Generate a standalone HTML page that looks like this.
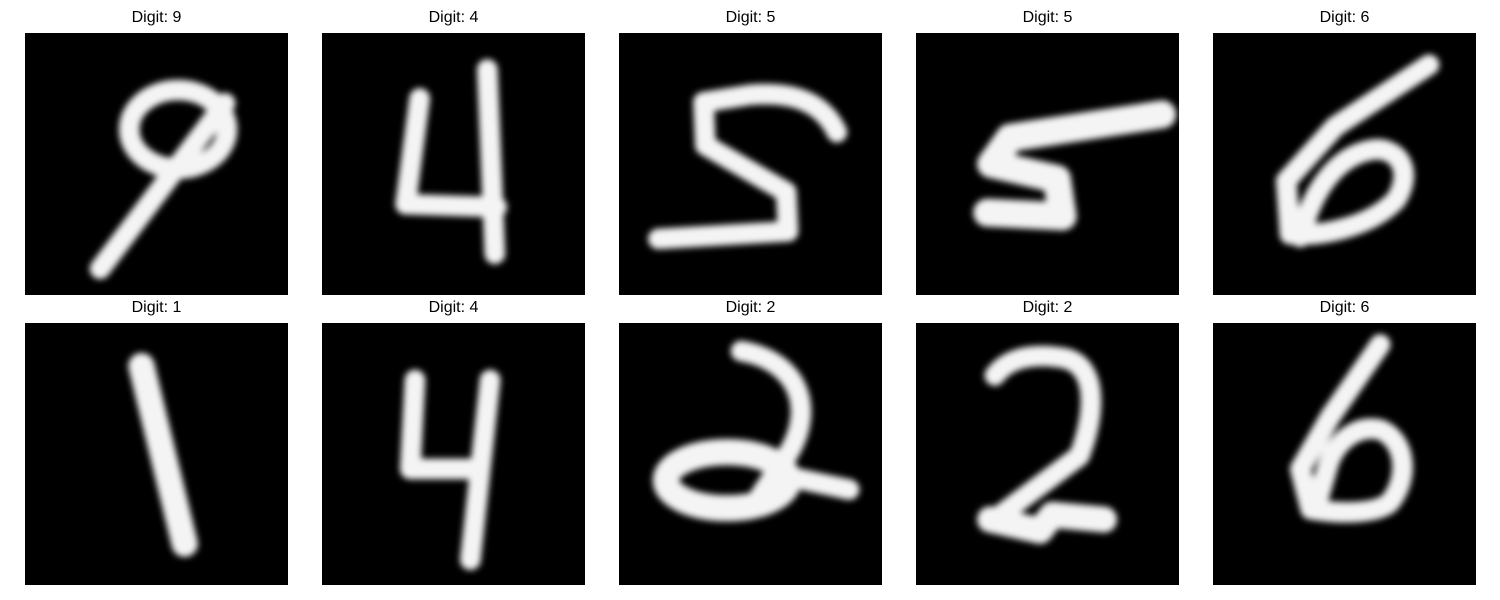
<!DOCTYPE html>
<html><head><meta charset="utf-8"><style>
body{margin:0;background:#fff;width:1500px;height:600px;overflow:hidden;font-family:"Liberation Sans","DejaVu Sans",sans-serif}
.t{position:absolute;font-size:16px;color:#000;text-align:center;width:263px}
svg.p{position:absolute;width:263px;height:262px;background:#000}
</style></head><body>
<div id="root"></div>
<script>
const titles=["Digit: 9","Digit: 4","Digit: 5","Digit: 5","Digit: 6","Digit: 1","Digit: 4","Digit: 2","Digit: 2","Digit: 6"];
const xs=[25,322,619,916,1213];
const ys=[33,323];
const shapes=[
 ['<ellipse cx="16.3" cy="10.3" rx="5.2" ry="4.2"/>','<path d="M21.3,7.5 L8,25.2"/>'],
 ['<path d="M10.4,7 L8.9,18.3 L18.6,18.6"/>','<path d="M17.6,3.9 L18.4,23.6"/>'],
 ['<path d="M23.2,10.6 C21.5,7 18,6.3 14,6.6 L9,7.4 L9.2,12 L17.8,17 L18,21.2 L4.2,22"/>'],
 ['<path d="M26.2,8.7 L10,11.2 L8,14 L15,15.6 L15.6,19.6 L7.6,19.2" stroke-width="3"/>'],
 ['<path d="M23,3.4 L13,10 L7.8,15.8 L8.2,21.5 C12,21.8 17,20.5 19.5,17.8 C21.5,14.5 19.5,12 16.8,12.5 C13,13.2 10.5,17 9.3,21.8"/>'],
 ['<path d="M12.4,4.6 L17,23.6" stroke-width="2.8"/>'],
 ['<path d="M9.9,6.1 L9.4,15.6 L16.6,15.6"/>','<path d="M17.9,6.1 L15.8,25.3"/>'],
 ['<path d="M13,3 C19,4 21,9 18,14 L15,18.5"/>','<ellipse cx="11.5" cy="16.8" rx="6.5" ry="3" stroke-width="2.8"/>','<path d="M17,16.2 L24.5,17.8"/>'],
 ['<path d="M8.4,5.6 C10,3.5 13,3.2 16,3.8 C19.5,4.8 19,10 17.4,14.2 L9,20.5"/>','<path d="M7.9,21 L13.2,22.2 L14.5,20.5 L20,21" stroke-width="2.8"/>'],
 ['<path d="M17.8,2.3 L12.5,10 L9.3,15.6 L10.4,19.9 C14,20.5 17.5,20.3 18.8,19.2 C21,16.5 20.5,12.5 17.8,11.4 C15,10.8 13,13 12.3,15 L11,19.5"/>']
];
const root=document.getElementById('root');
titles.forEach((t,i)=>{
 const x=xs[i%5],y=ys[Math.floor(i/5)];
 const d=document.createElement('div');d.className='t';d.textContent=t;
 d.style.left=x+'px';d.style.top=(y-24)+'px';
 
 
 root.appendChild(d);
 const s=document.createElementNS('http://www.w3.org/2000/svg','svg');
 s.setAttribute('class','p');s.setAttribute('viewBox','0 0 28 28');s.setAttribute('preserveAspectRatio','none');
 s.style.left=x+'px';s.style.top=y+'px';
 
 
 s.innerHTML='<defs><filter id="b'+i+'" filterUnits="userSpaceOnUse" x="0" y="0" width="28" height="28"><feGaussianBlur stdDeviation="0.35"/></filter></defs><rect width="28" height="28" fill="#000"/><g fill="none" stroke="#f4f4f4" stroke-width="2.2" stroke-linecap="round" stroke-linejoin="round" filter="url(#b'+i+')">'+shapes[i].join('')+'</g>';
 root.appendChild(s);
});
</script>
</body></html>
